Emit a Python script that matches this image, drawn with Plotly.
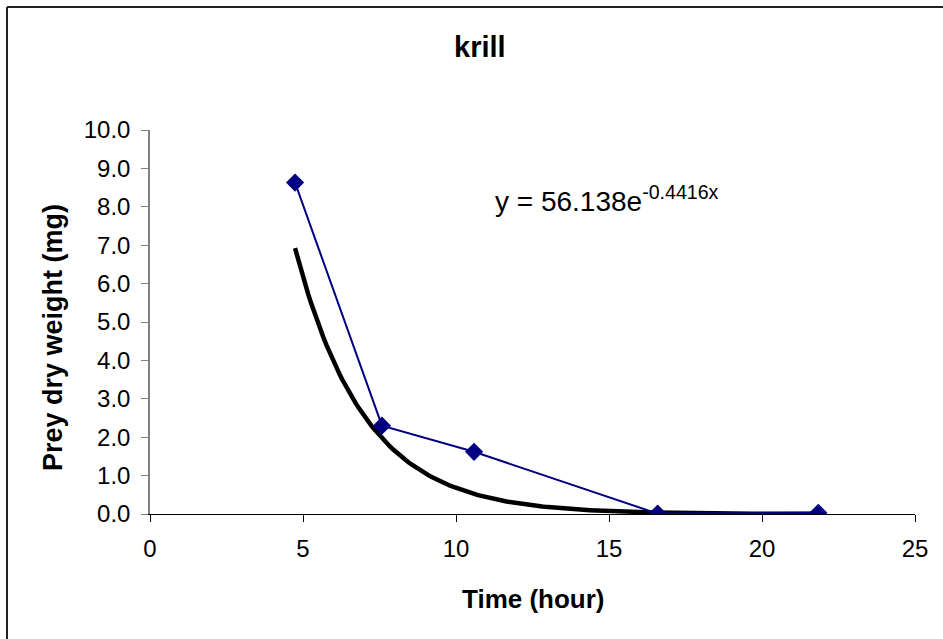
import numpy as np
import plotly.graph_objects as go

# Data
time_hour = [4.74, 7.58, 10.59, 16.59, 21.84]
prey_dry_weight_mg = [8.63, 2.30, 1.62, 0.01, 0.03]

# Exponential trendline parameters shown on chart
TREND_A = 56.138
TREND_B = -0.4416

x_ticks = [0, 5, 10, 15, 20, 25]
y_ticks = [0, 1, 2, 3, 4, 5, 6, 7, 8, 9, 10]

W, H = 943, 639
L, R, T, B = 150, 28, 130, 125
PW, PH = W - L - R, H - T - B

def px(x):
    return (x - L) / PW

def py(y):
    return (H - B - y) / PH

trend_x = np.linspace(min(time_hour), max(time_hour), 200)
trend_y = TREND_A * np.exp(TREND_B * trend_x)

FONT = "Liberation Sans, Arial, sans-serif"

fig = go.Figure()
fig.add_trace(go.Scatter(x=trend_x, y=trend_y, mode="lines",
                         line=dict(color="black", width=4.5), hoverinfo="skip",
                         showlegend=False))
fig.add_trace(go.Scatter(x=time_hour, y=prey_dry_weight_mg, mode="lines+markers",
                         line=dict(color="#000080", width=2),
                         marker=dict(symbol="diamond", size=14, color="#000080"),
                         showlegend=False))

fig.update_layout(
    width=W, height=H,
    margin=dict(l=L, r=R, t=T, b=B),
    paper_bgcolor="white", plot_bgcolor="white",
    font=dict(family=FONT, color="black", size=24),
    showlegend=False,
    xaxis=dict(range=[0, 25], tickvals=x_ticks, ticktext=[str(v) for v in x_ticks],
               showgrid=False, zeroline=False, showline=True, linecolor="black",
               linewidth=1, ticks="outside", ticklen=7, tickcolor="black",
               tickfont=dict(size=24, family=FONT), ticklabelstandoff=6),
    yaxis=dict(range=[0, 10], tickvals=y_ticks, ticktext=[f"{v:.1f}" for v in y_ticks],
               showgrid=False, zeroline=False, showline=True, linecolor="#808080",
               linewidth=1.5, ticks="outside", ticklen=7, tickcolor="#808080",
               tickfont=dict(size=24, family=FONT), ticklabelstandoff=6),
    shapes=[
        dict(type="line", xref="paper", yref="paper", x0=px(7), x1=px(W + 5),
             y0=py(7), y1=py(7), line=dict(color="#222222", width=2)),
        dict(type="line", xref="paper", yref="paper", x0=px(7), x1=px(7),
             y0=py(7), y1=py(H + 5), line=dict(color="#222222", width=2)),
    ],
    annotations=[
        dict(text="<b>krill</b>", xref="paper", yref="paper", x=px(480), y=py(47),
             xanchor="center", yanchor="middle", showarrow=False,
             font=dict(size=29, family=FONT)),
        dict(text="<b>Time (hour)</b>", xref="paper", yref="paper", x=px(533), y=py(599),
             xanchor="center", yanchor="middle", showarrow=False,
             font=dict(size=26, family=FONT)),
        dict(text="<b>Prey dry weight (mg)</b>", xref="paper", yref="paper", x=px(53),
             y=py(338), xanchor="center", yanchor="middle", textangle=-90,
             showarrow=False, font=dict(size=27, family=FONT)),
        dict(text="y = 56.138e<sup>-0.4416x</sup>", xref="paper", yref="paper",
             x=px(493), y=py(199), xanchor="left", yanchor="middle", showarrow=False,
             font=dict(size=28, family=FONT)),
    ],
)

fig.write_html("out.html")
